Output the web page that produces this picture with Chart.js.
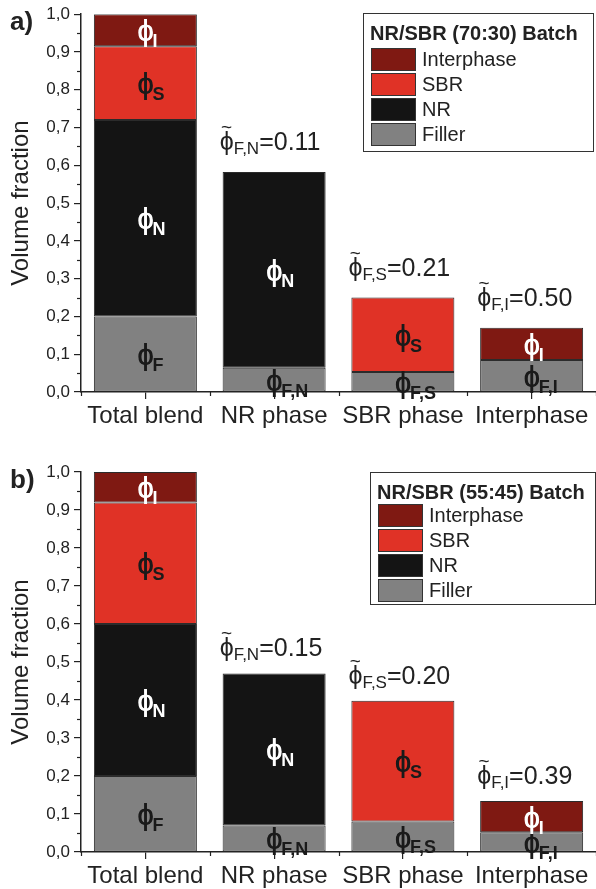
<!DOCTYPE html>
<html>
<head>
<meta charset="utf-8">
<script src="https://cdn.jsdelivr.net/npm/chart.js@4.4.0/dist/chart.umd.min.js"></script>
<style>
  body { margin: 0; background: #fff; width: 596px; height: 889px; overflow: hidden; }
  canvas { display: block; }
</style>
</head>
<body>
<canvas id="chartA" width="596" height="440"></canvas>
<canvas id="chartB" width="596" height="449"></canvas>
<script>
// categories and tick labels
const categories = ["Total blend", "NR phase", "SBR phase", "Interphase"];
const yTickLabels = ["0,0", "0,1", "0,2", "0,3", "0,4", "0,5", "0,6", "0,7", "0,8", "0,9", "1,0"];
const seriesNames = ["Filler", "NR", "SBR", "Interphase"];
const legendOrder = ["Interphase", "SBR", "NR", "Filler"];

// panel a) NR/SBR (70:30)
const fillerA = [0.200, 0.064, 0.053, 0.085];
const nrA     = [0.520, 0.518, null, null];
const sbrA    = [0.195, null, 0.197, null];
const interA  = [0.085, null, null, 0.085];
const ratiosA = [null, "0.11", "0.21", "0.50"];

// panel b) NR/SBR (55:45)
const fillerB = [0.200, 0.070, 0.080, 0.052];
const nrB     = [0.400, 0.400, null, null];
const sbrB    = [0.320, null, 0.318, null];
const interB  = [0.080, null, null, 0.082];
const ratiosB = [null, "0.15", "0.20", "0.39"];

// subscripts of the phi labels in each segment
const fillerSubs = ["F", "F,N", "F,S", "F,I"];
const nrSubs = ["N", "N", "N", "N"];
const sbrSubs = ["S", "S", "S", "S"];
const interSubs = ["I", "I", "I", "I"];
const ratioSubs = [null, "F,N", "F,S", "F,I"];

const colors = { Filler: "#818181", NR: "#141414", SBR: "#e03226", Interphase: "#7f1912" };
const labelColors = { Filler: "#1a1a1a", NR: "#ffffff", SBR: "#1a1a1a", Interphase: "#ffffff" };
const FONT = "'Liberation Sans', Arial, sans-serif";
const INK = "#222";

function drawPhi(ctx, cx, cy, sub, color) {
    ctx.save();
    ctx.fillStyle = color;
    ctx.textBaseline = "middle";
    ctx.font = "29px " + FONT;
    const pw = ctx.measureText("\u03d5").width;
    ctx.textAlign = "center";
    ctx.fillText("\u03d5", cx, cy);
    // thicken the stem a little, like the original glyph
    ctx.fillText("\u03d5", cx + 0.6, cy);
    ctx.font = "bold 18px " + FONT;
    ctx.textAlign = "left";
    ctx.fillText(sub, cx + pw / 2 - 1, cy + 9);
    ctx.restore();
}

function drawRatio(ctx, x, baseline, sub, value) {
    ctx.save();
    ctx.fillStyle = INK;
    ctx.textBaseline = "alphabetic";
    ctx.textAlign = "left";
    ctx.font = "25px " + FONT;
    const pw = ctx.measureText("\u03d5").width;
    ctx.fillText("\u03d5", x, baseline);
    ctx.font = "19px " + FONT;
    ctx.textAlign = "center";
    ctx.fillText("~", x + pw / 2, baseline - 17);
    ctx.textAlign = "left";
    ctx.font = "17px " + FONT;
    ctx.fillText(sub, x + pw, baseline + 4);
    const sw = ctx.measureText(sub).width;
    ctx.font = "25px " + FONT;
    ctx.fillText("=" + value, x + pw + sw, baseline);
    ctx.restore();
}

const decorPlugin = {
    id: "decor",
    afterDraw(chart, args, opts) {
        const ctx = chart.ctx;
        const xs = chart.scales.x, ys = chart.scales.y;
        ctx.save();
        ctx.strokeStyle = INK;
        ctx.lineWidth = 1.2;
        // minor y ticks
        for (let k = 0; k < 10; k++) {
            const y = Math.round(ys.getPixelForValue(0.05 + k * 0.1)) + 0.5;
            ctx.beginPath();
            ctx.moveTo(xs.left - 4, y);
            ctx.lineTo(xs.left, y);
            ctx.stroke();
        }
        // short x ticks between categories
        const step = (xs.right - xs.left) / categories.length;
        for (let k = 0; k <= categories.length; k++) {
            const x = Math.round(xs.left + k * step) + 0.5;
            ctx.beginPath();
            ctx.moveTo(x, ys.bottom);
            ctx.lineTo(x, ys.bottom + 4);
            ctx.stroke();
        }
        ctx.restore();

        // phi labels inside segments
        chart.data.datasets.forEach((ds, di) => {
            const meta = chart.getDatasetMeta(di);
            meta.data.forEach((bar, i) => {
                if (ds.data[i] == null) return;
                const cy = (bar.y + bar.base) / 2 + 3;
                drawPhi(ctx, bar.x, cy, ds.subs[i], labelColors[ds.label]);
            });
        });

        // filler ratio annotations above bars
        opts.ratios.forEach((r, i) => {
            if (r == null) return;
            let total = 0;
            chart.data.datasets.forEach(ds => { total += ds.data[i] || 0; });
            const top = ys.getPixelForValue(total);
            const bar = chart.getDatasetMeta(0).data[i];
            drawRatio(ctx, bar.x - bar.width / 2 - 3, top - opts.ratioGap, ratioSubs[i], r);
        });

        // panel letter
        ctx.save();
        ctx.fillStyle = INK;
        ctx.font = "bold 26px " + FONT;
        ctx.textBaseline = "alphabetic";
        ctx.fillText(opts.letter, 10, opts.letterY);
        ctx.restore();

        // legend box
        const L = opts.legend;
        ctx.save();
        ctx.fillStyle = "#fff";
        ctx.fillRect(L.x, L.y, L.w, L.h);
        ctx.strokeStyle = "#333";
        ctx.lineWidth = 1;
        ctx.strokeRect(L.x + 0.5, L.y + 0.5, L.w - 1, L.h - 1);
        ctx.fillStyle = INK;
        ctx.font = "bold 20px " + FONT;
        ctx.textBaseline = "middle";
        ctx.fillText(L.title, L.x + 7, L.y + 21);
        legendOrder.forEach((name, k) => {
            const sy = L.y + L.first + k * 25;
            ctx.fillStyle = colors[name];
            ctx.fillRect(L.x + 8, sy, 45, 23);
            ctx.strokeStyle = "#333";
            ctx.strokeRect(L.x + 8.5, sy + 0.5, 44, 22);
            ctx.fillStyle = INK;
            ctx.font = "20px " + FONT;
            ctx.fillText(name, L.x + 59, sy + 12);
        });
        ctx.restore();
    }
};

function makeDatasets(filler, nr, sbr, inter) {
    const sets = [[filler, fillerSubs], [nr, nrSubs], [sbr, sbrSubs], [inter, interSubs]];
    return sets.map((s, k) => ({
        label: seriesNames[k],
        data: s[0],
        subs: s[1],
        backgroundColor: colors[seriesNames[k]],
        borderColor: "#2b2b2b",
        borderWidth: 1,
        borderSkipped: false,
        barPercentage: 0.8,
        categoryPercentage: 1.0,
    }));
}

function makeChart(id, datasets, topPad, axisHeight, decor) {
    const ctx = document.getElementById(id).getContext("2d");
    return new Chart(ctx, {
        type: "bar",
        data: { labels: categories, datasets: datasets },
        options: {
            responsive: false,
            animation: false,
            devicePixelRatio: 1,
            layout: { padding: { top: topPad, right: 0, left: 0, bottom: 0 } },
            plugins: {
                legend: { display: false },
                tooltip: { enabled: false },
                decor: decor,
            },
            scales: {
                x: {
                    stacked: true,
                    offset: true,
                    grid: { offset: false, drawOnChartArea: false, drawTicks: true, tickLength: 7, color: INK, lineWidth: 1.2 },
                    border: { color: INK, width: 1.5 },
                    ticks: { color: INK, padding: 3, font: { family: FONT, size: 24 } },
                    afterFit: function (s) { s.height = axisHeight; },
                },
                y: {
                    stacked: true,
                    min: 0,
                    max: 1,
                    grid: { drawOnChartArea: false, drawTicks: true, tickLength: 7, color: INK, lineWidth: 1.2 },
                    border: { color: INK, width: 1.5 },
                    ticks: {
                        stepSize: 0.1,
                        color: INK,
                        padding: 4,
                        font: { family: FONT, size: 17 },
                        callback: function (v, i) { return yTickLabels[i]; },
                    },
                    title: {
                        display: true,
                        text: "Volume fraction",
                        color: INK,
                        font: { family: FONT, size: 24 },
                        padding: { top: 7, bottom: 0 },
                    },
                    afterFit: function (s) { s.width = 81; },
                },
            },
        },
        plugins: [decorPlugin],
    });
}

makeChart("chartA", makeDatasets(fillerA, nrA, sbrA, interA), 13, 48, {
    letter: "a)", letterY: 30, ratios: ratiosA, ratioGap: 22,
    legend: { x: 363, y: 13, w: 231, h: 139, first: 35, title: "NR/SBR (70:30) Batch" },
});
makeChart("chartB", makeDatasets(fillerB, nrB, sbrB, interB), 32, 37, {
    letter: "b)", letterY: 48, ratios: ratiosB, ratioGap: 17,
    legend: { x: 370, y: 32, w: 226, h: 133, first: 32, title: "NR/SBR (55:45) Batch" },
});
</script>
</body>
</html>
